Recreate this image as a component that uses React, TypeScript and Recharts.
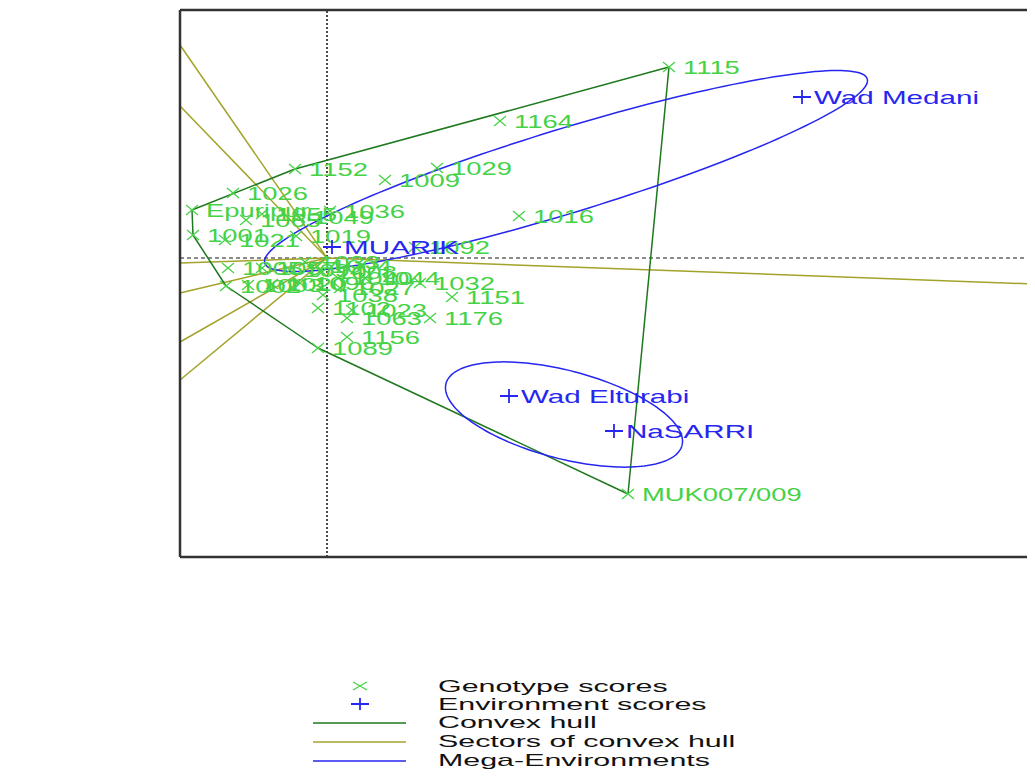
import React from 'react';
import { ComposedChart, Scatter, XAxis, YAxis, ReferenceLine, Legend } from 'recharts';

// ---------- data ----------
const genotypeNames = [
  '1115', '1164', '1152', '1029', '1009', '1026', 'Epuripur', '1036', '1049', '1065',
  '1055', '1016', '1001', '1021', '1019', '1092', '1004', '1044', '1032', '1151',
  '1038', '1102', '1023', '1063', '1176', '1156', '1089', 'MUK007/009', '1005', '1057',
  '1094', '1002', '1003', '1020', '1096', '1033', '1008', '1040', '1027',
];
const genotypePC1 = [
  3.42, 1.73, -0.32, 1.10, 0.58, -0.94, -1.35, 0.03, -0.28, -0.81,
  -0.65, 1.92, -1.34, -1.02, -0.31, 0.88, -0.10, 0.38, 0.93, 1.25,
  -0.04, -0.09, 0.25, 0.20, 1.03, 0.20, -0.09, 3.01, -0.99, -0.65,
  -0.37, -1.01, -0.79, -0.55, -0.27, -0.22, -0.05, 0.11, 0.13,
];
const genotypePC2 = [
  1.91, 1.37, 0.89, 0.90, 0.78, 0.65, 0.48, 0.47, 0.41, 0.38,
  0.44, 0.42, 0.23, 0.18, 0.22, 0.11, -0.08, -0.20, -0.25, -0.39,
  -0.37, -0.50, -0.52, -0.60, -0.60, -0.79, -0.90, -2.36, -0.10, -0.10,
  -0.12, -0.28, -0.27, -0.26, -0.25, -0.04, -0.14, -0.20, -0.30,
];

const envNames = ['MUARIK', 'Wad Medani', 'Wad Elturabi', 'NaSARRI'];
const envPC1 = [0.05, 4.75, 1.82, 2.87];
const envPC2 = [0.11, 1.61, -1.38, -1.73];

const hullOrder = ['1115', 'MUK007/009', '1089', '1002', '1001', 'Epuripur', '1152'];

const sectorEndPC1 = [-1.47, -1.47, -1.47, -1.47, -1.47, -1.47, 7.08];
const sectorEndPC2 = [2.13, 1.52, -0.05, -0.35, -0.84, -1.22, -0.26];

const megaCenterPC1 = [2.39, 2.37];
const megaCenterPC2 = [0.87, -1.565];
const megaSemiMajor = [3.15, 1.22];
const megaSemiMinor = [0.42, 0.44];
const megaAngleDeg = [17, -14.7];

const pc1Domain: [number, number] = [-1.47, 7.08];
const pc2Domain: [number, number] = [-2.99, 2.48];

const xTitle = 'PC1 - 49.88%';
const yTitle = 'PC2 - 27.16%';
const legendLabels = ['Genotype scores', 'Environment scores', 'Convex hull', 'Sectors of convex hull', 'Mega-Environments'];

// ---------- styles ----------
const FONT = '"Liberation Sans", Arial, sans-serif';
const GREEN = '#46d246';
const BLUE = '#2626f0';
const HULL = '#1e781e';
const SECTOR = '#a3a32a';
const FRAME = '#333333';

const genotypeData = genotypeNames.map((name, i) => ({ name, x: genotypePC1[i], y: genotypePC2[i] }));
const envData = envNames.map((name, i) => ({ name, x: envPC1[i], y: envPC2[i] }));

const findG = (n: string) => genotypeData.find((g) => g.name === n)!;
const hullSegments = hullOrder.map((n, i) => {
  const a = findG(n);
  const b = findG(hullOrder[(i + 1) % hullOrder.length]);
  return [{ x: a.x, y: a.y }, { x: b.x, y: b.y }];
});
const sectorSegments = sectorEndPC1.map((x, i) => [{ x: 0, y: 0 }, { x, y: sectorEndPC2[i] }]);

const ellipsePath = (k: number) => {
  const pts: { x: number; y: number }[] = [];
  const th = (megaAngleDeg[k] * Math.PI) / 180;
  const n = 180;
  for (let i = 0; i <= n; i++) {
    const t = (i / n) * 2 * Math.PI;
    const ca = megaSemiMajor[k] * Math.cos(t);
    const sb = megaSemiMinor[k] * Math.sin(t);
    pts.push({
      x: megaCenterPC1[k] + ca * Math.cos(th) - sb * Math.sin(th),
      y: megaCenterPC2[k] + ca * Math.sin(th) + sb * Math.cos(th),
    });
  }
  return pts;
};
const ellipses = megaCenterPC1.map((_, k) => ellipsePath(k));

const GenotypeMark = (props: any) => {
  const { cx, cy, payload } = props;
  if (cx == null || cy == null) return <g />;
  return (
    <g>
      <path
        d={`M${cx - 6},${cy - 5}L${cx + 6},${cy + 5}M${cx - 6},${cy + 5}L${cx + 6},${cy - 5}`}
        stroke={GREEN}
        strokeWidth={1.3}
        fill="none"
      />
      <text transform={`translate(${cx + 14},${cy + 6.5}) scale(1.48,1)`} fontSize={18.5} fill={GREEN} fontFamily={FONT}>
        {payload.name}
      </text>
    </g>
  );
};

const EnvMark = (props: any) => {
  const { cx, cy, payload } = props;
  if (cx == null || cy == null) return <g />;
  return (
    <g>
      <path d={`M${cx - 9},${cy}L${cx + 9},${cy}M${cx},${cy - 7}L${cx},${cy + 7}`} stroke={BLUE} strokeWidth={1.8} fill="none" />
      <text transform={`translate(${cx + 12},${cy + 6.5}) scale(1.6,1)`} fontSize={18.5} fill={BLUE} fontFamily={FONT}>
        {payload.name}
      </text>
    </g>
  );
};

const XTitle = (props: any) => {
  const vb = props.viewBox || {};
  return (
    <text
      transform={`translate(${vb.x + vb.width / 2 + 4},${vb.y + 85}) scale(1.42,1)`}
      textAnchor="middle"
      fontSize={22}
      fill="#111"
      fontFamily={FONT}
    >
      {xTitle}
    </text>
  );
};

const YTitle = (props: any) => {
  const vb = props.viewBox || {};
  return (
    <text
      transform={`translate(22,${vb.y + vb.height / 2 + 2}) scale(1.2,1) rotate(-90)`}
      textAnchor="middle"
      fontSize={23}
      fill="#111"
      fontFamily={FONT}
    >
      {yTitle}
    </text>
  );
};

const renderLegend = () => {
  const rows = [34, 52, 70, 89, 108];
  const cx = 352;
  return (
    <svg width={1027} height={118} style={{ display: 'block' }}>
      <path d={`M${cx - 7},${rows[0] - 4}L${cx + 7},${rows[0] + 4}M${cx - 7},${rows[0] + 4}L${cx + 7},${rows[0] - 4}`} stroke={GREEN} strokeWidth={1.3} />
      <path d={`M${cx - 9},${rows[1]}L${cx + 9},${rows[1]}M${cx},${rows[1] - 6}L${cx},${rows[1] + 6}`} stroke={BLUE} strokeWidth={1.8} />
      <line x1={305} x2={398} y1={rows[2] + 1} y2={rows[2] + 1} stroke={HULL} strokeWidth={1.5} />
      <line x1={305} x2={398} y1={rows[3] + 1} y2={rows[3] + 1} stroke={SECTOR} strokeWidth={1.5} />
      <line x1={305} x2={398} y1={rows[4] + 1} y2={rows[4] + 1} stroke={BLUE} strokeWidth={1.5} />
      {legendLabels.map((t, i) => (
        <text key={t} transform={`translate(430,${rows[i] + 6}) scale(1.9,1)`} fontSize={16} fill="#111" fontFamily={FONT}>
          {t}
        </text>
      ))}
    </svg>
  );
};

export default function App() {
  return (
    <div style={{ width: 1027, height: 762, background: '#fff', overflow: 'hidden' }}>
      <style>{'html,body{overflow:hidden}'}</style>
      <ComposedChart width={1027} height={762} margin={{ top: 2, right: 0, bottom: 213, left: 172 }}>
        <XAxis
          type="number"
          dataKey="x"
          domain={pc1Domain}
          allowDataOverflow
          height={0}
          tick={false}
          tickLine={false}
          axisLine={false}
          label={XTitle}
        />
        <YAxis
          type="number"
          dataKey="y"
          domain={pc2Domain}
          allowDataOverflow
          width={0}
          tick={false}
          tickLine={false}
          axisLine={false}
          label={YTitle}
        />
        <ReferenceLine x={0} stroke="#111" strokeDasharray="2 2" strokeWidth={1.5} />
        <ReferenceLine y={0} stroke="#666" strokeDasharray="4 3" strokeWidth={1.3} />
        {sectorSegments.map((s, i) => (
          <ReferenceLine key={'s' + i} segment={s} stroke={SECTOR} strokeWidth={1.5} ifOverflow="visible" />
        ))}
        {hullSegments.map((s, i) => (
          <ReferenceLine key={'h' + i} segment={s} stroke={HULL} strokeWidth={1.5} ifOverflow="visible" />
        ))}
        {ellipses.map((pts, k) => (
          <Scatter
            key={'e' + k}
            data={pts}
            line={{ stroke: BLUE, strokeWidth: 1.5 }}
            shape={() => <g />}
            isAnimationActive={false}
            legendType="none"
          />
        ))}
        <Scatter data={genotypeData} shape={GenotypeMark} isAnimationActive={false} />
        <Scatter data={envData} shape={EnvMark} isAnimationActive={false} />
        <ReferenceLine x={pc1Domain[0]} stroke={FRAME} strokeWidth={2.5} />
        <ReferenceLine y={pc2Domain[1]} stroke={FRAME} strokeWidth={2.5} />
        <ReferenceLine y={pc2Domain[0]} stroke={FRAME} strokeWidth={2.5} />
        <Legend
          layout="horizontal"
          verticalAlign="middle"
          align="center"
          content={renderLegend}
          wrapperStyle={{ position: 'absolute', left: 0, top: 644, width: 1027, height: 118 }}
        />
      </ComposedChart>
    </div>
  );
}
